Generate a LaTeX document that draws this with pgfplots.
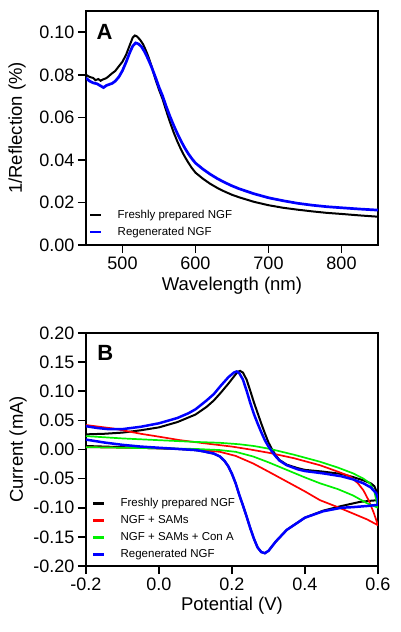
\documentclass[border=0pt]{standalone}
\usepackage{pgfplots}
\pgfplotsset{compat=1.18}
\usepackage{fontspec}
\setmainfont{Liberation Sans}
\definecolor{cvgreen}{RGB}{0,240,0}
\begin{document}
\begin{tikzpicture}[x=1pt,y=1pt]
\useasboundingbox (0,0) rectangle (400,632);
\pgfplotsset{
 myaxis/.style={
  scale only axis, width=292pt,
  axis line style={line width=1.7pt},
  every tick/.style={line width=1.7pt, black},
  tick align=outside, major tick length=8pt,
  xtick pos=bottom, ytick pos=left,
  tick label style={font=\fontsize{18}{21}\selectfont},
  label style={font=\fontsize{18.5}{21}\selectfont},
  legend style={draw=none, fill=none, font=\fontsize{11.5}{13}\selectfont,
    inner sep=0pt, row sep=5pt, column sep=14pt,
    nodes={inner sep=1pt, text height=8pt, text depth=2pt}},
  legend cell align=left,
  legend image code/.code={\draw[##1, line width=2.6pt] (0pt,0pt) -- (11pt,0pt);},
 }
}
% ---------------- Panel A ----------------
\begin{axis}[myaxis, at={(86pt,387pt)}, anchor=south west, height=234pt,
  xmin=450, xmax=850, ymin=0, ymax=0.11,
  xtick={500,600,700,800}, xticklabels={500,600,700,800},
  ytick={0,0.02,0.04,0.06,0.08,0.10},
  yticklabels={0.00,0.02,0.04,0.06,0.08,0.10},
  xlabel={Wavelength (nm)}, ylabel={1/Reflection (\%)},
  xlabel style={at={(axis description cs:0.5,-0.175)}, anchor=center},
  ylabel style={at={(axis description cs:-0.236,0.5)}, anchor=center},
  legend style={at={(axis description cs:0.01,0.154)}, anchor=north west},
]
\addplot[black, line width=2pt] coordinates {
(450,0.0800) (455,0.0790) (460,0.0785) (463,0.0775) (467,0.0780) (470,0.0772)
(473,0.0778) (477,0.0783) (480,0.0790) (485,0.0805) (490,0.0818) (495,0.0840)
(500,0.0862) (505,0.0895) (510,0.0940) (514,0.0975) (517,0.0985) (520,0.0980)
(524,0.0965) (528,0.0945) (532,0.0915) (536,0.0880) (540,0.0838) (545,0.0780)
(550,0.0730) (555,0.0685) (560,0.0630) (565,0.0578) (570,0.0530) (575,0.0488)
(580,0.0450) (585,0.0417) (590,0.0388) (595,0.0362) (600,0.0340) (610,0.0312)
(620,0.0288) (630,0.0268) (640,0.0251) (650,0.0236) (660,0.0224) (680,0.0203)
(700,0.0187) (720,0.0175) (740,0.0166) (760,0.0158) (780,0.0151) (800,0.0146)
(825,0.0139) (850,0.0133)
};
\addlegendentry{Freshly prepared NGF}
\addplot[blue, line width=2.7pt] coordinates {
(450,0.0785) (455,0.0770) (460,0.0762) (465,0.0758) (470,0.0748) (474,0.0740)
(478,0.0750) (482,0.0755) (486,0.0760) (490,0.0770) (495,0.0790) (500,0.0820)
(505,0.0860) (510,0.0905) (514,0.0935) (518,0.0950) (522,0.0945) (526,0.0932)
(530,0.0910) (535,0.0875) (540,0.0835) (545,0.0790) (550,0.0742) (555,0.0700)
(560,0.0650) (565,0.0605) (570,0.0563) (575,0.0525) (580,0.0490) (585,0.0458)
(590,0.0430) (595,0.0406) (600,0.0385) (610,0.0357) (620,0.0333) (630,0.0312)
(640,0.0294) (650,0.0278) (660,0.0264) (680,0.0241) (700,0.0222) (720,0.0208)
(740,0.0196) (760,0.0187) (780,0.0180) (800,0.0175) (825,0.0169) (850,0.0164)
};
\addlegendentry{Regenerated NGF}
\node[anchor=base west, font=\fontsize{22}{24}\selectfont\bfseries] at (axis description cs:0.024,0.880) {A};
\end{axis}
% ---------------- Panel B ----------------
\begin{axis}[myaxis, at={(86pt,66pt)}, anchor=south west, height=233pt,
  xmin=-0.2, xmax=0.6, ymin=-0.2, ymax=0.2,
  xtick={-0.2,0,0.2,0.4,0.6}, xticklabels={-0.2,0.0,0.2,0.4,0.6},
  ytick={-0.2,-0.15,-0.1,-0.05,0,0.05,0.1,0.15,0.2},
  yticklabels={-0.20,-0.15,-0.10,-0.05,0.00,0.05,0.10,0.15,0.20},
  xlabel={Potential (V)}, ylabel={Current (mA)},
  xlabel style={at={(axis description cs:0.5,-0.172)}, anchor=center},
  ylabel style={at={(axis description cs:-0.233,0.5)}, anchor=center},
  legend style={at={(axis description cs:0.02,0.296)}, anchor=north west},
]
\addplot[black, line width=2pt] coordinates {
(-0.2,0.026) (-0.15,0.027) (-0.1,0.029) (-0.05,0.033) (0.0,0.038) (0.05,0.047)
(0.1,0.060) (0.13,0.073) (0.15,0.084) (0.17,0.098) (0.19,0.113) (0.205,0.125)
(0.215,0.133) (0.222,0.135) (0.23,0.132) (0.24,0.120) (0.25,0.101) (0.26,0.081)
(0.27,0.063) (0.28,0.045) (0.29,0.028) (0.30,0.012) (0.31,0.000) (0.32,-0.010)
(0.33,-0.018) (0.35,-0.026) (0.38,-0.032) (0.40,-0.035) (0.45,-0.038) (0.50,-0.042)
(0.53,-0.047) (0.56,-0.053) (0.58,-0.058) (0.59,-0.063) (0.598,-0.075) (0.6,-0.087)
(0.58,-0.088) (0.55,-0.090) (0.50,-0.097) (0.45,-0.105) (0.40,-0.117) (0.35,-0.138)
(0.32,-0.158) (0.30,-0.174) (0.29,-0.178) (0.28,-0.176) (0.27,-0.168) (0.26,-0.153)
(0.25,-0.135) (0.24,-0.115) (0.23,-0.096) (0.22,-0.078) (0.21,-0.058) (0.20,-0.042)
(0.19,-0.029) (0.18,-0.020) (0.167,-0.012) (0.15,-0.007) (0.12,-0.003) (0.10,-0.001)
(0.05,0.001) (0.0,0.002) (-0.1,0.004) (-0.2,0.006)
};
\addlegendentry{Freshly prepared NGF}
\addplot[red, line width=1.7pt] coordinates {
(-0.2,0.042) (-0.125,0.036) (-0.05,0.027) (0.0,0.022) (0.058,0.016) (0.12,0.011)
(0.2,0.005) (0.25,0.000) (0.304,-0.006) (0.37,-0.015) (0.441,-0.027) (0.49,-0.038)
(0.523,-0.046) (0.545,-0.058) (0.56,-0.070) (0.575,-0.088) (0.588,-0.108) (0.6,-0.130)
(0.57,-0.120) (0.532,-0.110) (0.49,-0.099) (0.441,-0.087) (0.40,-0.072) (0.35,-0.055)
(0.30,-0.038) (0.258,-0.024) (0.21,-0.011) (0.167,-0.004) (0.10,0.000) (0.0,0.002)
(-0.1,0.003) (-0.2,0.004)
};
\addlegendentry{NGF + SAMs}
\addplot[cvgreen, line width=1.7pt] coordinates {
(-0.2,0.023) (-0.1,0.019) (0.0,0.016) (0.1,0.013) (0.167,0.0115) (0.22,0.009)
(0.26,0.006) (0.304,0.001) (0.37,-0.009) (0.441,-0.021) (0.49,-0.031) (0.532,-0.041)
(0.56,-0.050) (0.578,-0.058) (0.59,-0.072) (0.6,-0.100)
(0.569,-0.092) (0.532,-0.079) (0.49,-0.068) (0.441,-0.058) (0.40,-0.048) (0.35,-0.035)
(0.30,-0.022) (0.258,-0.012) (0.21,-0.004) (0.167,-0.001) (0.10,0.001) (0.0,0.002)
(-0.1,0.003) (-0.2,0.004)
};
\addlegendentry{NGF + SAMs + Con A}
\addplot[blue, line width=2.5pt] coordinates {
(-0.2,0.040) (-0.17,0.037) (-0.14,0.035) (-0.1,0.035) (-0.05,0.039) (0.0,0.045)
(0.05,0.054) (0.08,0.062) (0.10,0.069) (0.13,0.084) (0.15,0.095) (0.17,0.110)
(0.19,0.124) (0.205,0.132) (0.213,0.134) (0.22,0.131) (0.23,0.120) (0.24,0.101)
(0.25,0.080) (0.26,0.061) (0.27,0.045) (0.28,0.030) (0.29,0.016) (0.30,0.005)
(0.31,-0.004) (0.32,-0.012) (0.33,-0.019) (0.35,-0.027) (0.38,-0.034) (0.40,-0.037)
(0.45,-0.041) (0.50,-0.046) (0.53,-0.051) (0.56,-0.058) (0.58,-0.065) (0.595,-0.075)
(0.6,-0.085) (0.6,-0.095) (0.57,-0.097) (0.53,-0.099) (0.50,-0.100) (0.45,-0.106)
(0.40,-0.117) (0.35,-0.138) (0.32,-0.158) (0.30,-0.174) (0.29,-0.178) (0.28,-0.176)
(0.27,-0.168) (0.26,-0.153) (0.25,-0.135) (0.24,-0.115) (0.23,-0.096) (0.22,-0.078)
(0.21,-0.058) (0.20,-0.042) (0.19,-0.029) (0.18,-0.020) (0.167,-0.012) (0.15,-0.007)
(0.12,-0.003) (0.10,-0.001) (0.05,0.001) (0.0,0.003) (-0.05,0.005) (-0.1,0.008)
(-0.15,0.012) (-0.2,0.017)
};
\addlegendentry{Regenerated NGF}
\node[anchor=base west, font=\fontsize{22}{24}\selectfont\bfseries] at (axis description cs:0.027,0.880) {B};
\end{axis}
\end{tikzpicture}
\end{document}
